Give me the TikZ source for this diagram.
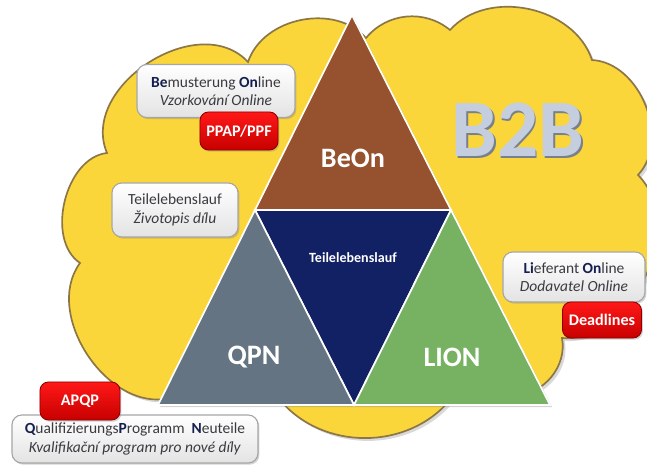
\documentclass[tikz,border=0pt]{standalone}
\usepackage{fontspec}
\setmainfont{Carlito}
\usetikzlibrary{calc,shadows}
\definecolor{cloudyellow}{RGB}{250,214,58}
\definecolor{cloudedge}{RGB}{140,118,70}
\definecolor{beonbrown}{RGB}{150,82,46}
\definecolor{tlnavy}{RGB}{18,32,100}
\definecolor{qpngray}{RGB}{100,116,130}
\definecolor{liongreen}{RGB}{118,178,98}
\definecolor{redtop}{RGB}{255,24,24}
\definecolor{redbottom}{RGB}{200,0,0}
\definecolor{textnavy}{RGB}{22,32,80}
\definecolor{textgray}{RGB}{58,58,64}
\definecolor{silver}{RGB}{196,206,222}
\definecolor{silverdark}{RGB}{120,128,140}
\newcommand{\nb}[1]{\textbf{\color{textnavy}#1}}
\tikzset{
	infobox/.style={draw=gray!70, line width=0.8pt, rounded corners=7pt, top color=white, bottom color=gray!22,
		drop shadow={opacity=0.35, shadow xshift=1pt, shadow yshift=-1.2pt}, align=center, text=textgray,
		font=\fontsize{11}{13}\selectfont, inner sep=0pt},
	redbox/.style={draw=red!55!black, line width=0.6pt, rounded corners=6pt, top color=redtop, bottom color=redbottom,
		drop shadow={opacity=0.35, shadow xshift=1pt, shadow yshift=-1.2pt}, text=white,
		font=\bfseries\fontsize{11.5}{13}\selectfont, inner sep=0pt},
	tritext/.style={text=white, font=\bfseries\fontsize{20}{20}\selectfont}
}

\begin{document}
\begin{tikzpicture}[x=0.025cm,y=-0.025cm]
	\useasboundingbox (0,0) rectangle (647,465);
	% cloud
	\filldraw[fill=cloudyellow, draw=cloudedge, line width=1.2pt,
		drop shadow={opacity=0.3, shadow xshift=2pt, shadow yshift=-2pt}]
		(80,263) to[bend left=70, looseness=0.95] (107,153) to[bend left=80, looseness=1.1] (248,62)
		to[bend left=60] (366,38) to[bend left=45] (450,30) to[bend left=60] (592,60)
		to[bend left=65] (638,175) to[bend left=70] (562,338) to[bend left=50] (515,395)
		-- (450,400) to[bend left=50] (280,400) -- (170,398)
		to[bend left=70, looseness=1.0] cycle;
	% triangles
	\coordinate (A) at (158,405);
	\coordinate (B) at (550,405);
	\coordinate (C) at (352,15);
	\coordinate (Aprime) at ($(B)!0.5!(C)$);
	\coordinate (Bprime) at ($(A)!0.5!(C)$);
	\coordinate (Cprime) at ($(A)!0.5!(B)$);
	\fill[white, drop shadow={opacity=0.35, shadow xshift=1.5pt, shadow yshift=-1.5pt}] (A) -- (B) -- (C) -- cycle;
	\filldraw[fill=beonbrown, draw=white, line width=1.2pt] (C) -- (Bprime) -- (Aprime) -- cycle;
	\filldraw[fill=tlnavy, draw=white, line width=1.2pt] (Bprime) -- (Aprime) -- (Cprime) -- cycle;
	\filldraw[fill=qpngray, draw=white, line width=1.2pt] (A) -- (Cprime) -- (Bprime) -- cycle;
	\filldraw[fill=liongreen, draw=white, line width=1.2pt] (Cprime) -- (B) -- (Aprime) -- cycle;
	\node[tritext] (beon) at (353,158) {BeOn};
	\node[tritext] (qpn) at (254,357) {QPN};
	\node[tritext] (lion) at (452,357) {LION};
	\node[text=white, font=\bfseries\fontsize{10}{10}\selectfont] (tlauf) at (353,258) {Teilelebenslauf};
	% B2B
	\node[text=silverdark, font=\bfseries\fontsize{58}{58}\selectfont] (b2bshadow) at (519.5,131.5) {B2B};
	\node[text=silver, font=\bfseries\fontsize{58}{58}\selectfont] (b2b) at (518,130) {B2B};
	% text boxes
	\node[infobox, minimum width=3.95cm, minimum height=1.325cm] (bemu) at (216,91)
		{\nb{Be}musterung \nb{On}line\\ \textit{Vzorkování Online}};
	\node[redbox, minimum width=1.95cm, minimum height=0.95cm] (ppap) at (239,131) {PPAP/PPF};
	\node[infobox, minimum width=3.15cm, minimum height=1.35cm] (tlaufbox) at (175,210)
		{Teilelebenslauf\\ \textit{Životopis dílu}};
	\node[infobox, minimum width=3.55cm, minimum height=1.25cm] (lief) at (574,277)
		{\nb{Li}eferant \nb{On}line\\ \textit{Dodavatel Online}};
	\node[redbox, minimum width=1.975cm, minimum height=0.9cm] (dead) at (602,320) {Deadlines};
	\node[infobox, minimum width=6.15cm, minimum height=1.2cm] (qual) at (135,439)
		{\nb{Q}ualifizierungs\nb{P}rogramm\ \ \nb{N}euteile\\ \textit{Kvalifikační program pro nové díly}};
	\node[redbox, minimum width=2cm, minimum height=0.95cm] (apqp) at (80,401) {APQP};
\end{tikzpicture}
\end{document}
